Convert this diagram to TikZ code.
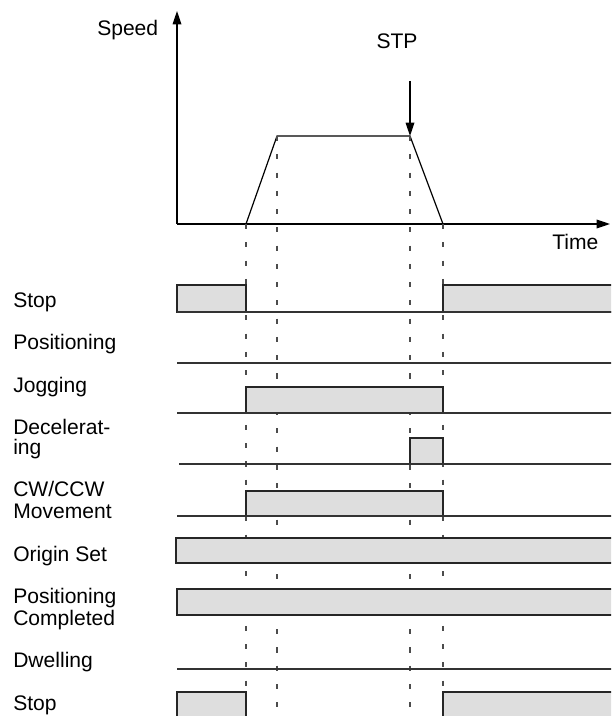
\documentclass[tikz,border=0pt]{standalone}
\usepackage{fontspec}
\setmainfont{Liberation Sans}
\usetikzlibrary{arrows.meta}

\begin{document}
\begin{tikzpicture}[x=0.75pt,y=-0.75pt,
  every node/.style={font=\fontsize{15.8}{15.8}\selectfont,inner sep=0pt},
  siglabel/.style={anchor=base west,align=left},
  sigline/.style={line width=0.8pt,black!80},
  sigbox/.style={fill=black!13,draw=black!85,line width=0.8pt},
  markline/.style={black!70,line width=0.8pt,dash pattern=on 3.8pt off 9.9pt},
  axis/.style={line width=0.9pt,-{Triangle[length=10pt,width=6.5pt]}}]
\useasboundingbox (0,0) rectangle (611,716);
\clip (0,0) rectangle (611,716);
% speed graph
\coordinate (O) at (177,224);
\coordinate (p1) at (246,224);
\coordinate (p2) at (277,136);
\coordinate (p3) at (410,136);
\coordinate (p4) at (443,224);
\coordinate (stpA) at (410,81);
\draw[axis] (O) -- (177,11);
\draw[axis] (O) -- (610,224);
\node[anchor=base west] (speed) at (97,36) {Speed};
\node[anchor=base] (stp) at (397,49) {STP};
\node[anchor=base west] (time) at (552,249) {Time};
\draw[line width=0.9pt] (p1) -- (p2) -- (p3) -- (p4);
\draw[axis] (stpA) -- (p3);
% timing marks
\draw[markline] (p1) -- (246,716);
\draw[markline] (p2) -- (277,716);
\draw[markline] (p3) -- (410,716);
\draw[markline] (p4) -- (443,716);
% signal names (base = last line)
\node[siglabel] (stop1) at (13,307) {Stop};
\node[siglabel] (posn) at (13,349) {Positioning};
\node[siglabel] (jog) at (13,392) {Jogging};
\node[siglabel] (decel) at (13,454) {Decelerat-\\[-1.5pt]ing};
\node[siglabel] (cw) at (13,518) {CW/CCW\\Movement};
\node[siglabel] (origin) at (13,561) {Origin Set};
\node[siglabel] (posdone) at (13,625) {Positioning\\Completed};
\node[siglabel] (dwell) at (13,667) {Dwelling};
\node[siglabel] (stop2) at (13,710) {Stop};
% signals
\draw[sigbox] (177,285) rectangle (246,312);
\draw[sigbox] (443,285) rectangle (616,312);
\draw[sigline] (177,312) -- (616,312);
\draw[sigline] (177,363) -- (616,363);
\draw[sigbox] (246,387) rectangle (443,413);
\draw[sigline] (177,413) -- (616,413);
\draw[sigbox] (410,438) rectangle (443,464);
\draw[sigline] (179,464) -- (616,464);
\draw[sigbox] (246,491) rectangle (443,516);
\draw[sigline] (177,516) -- (616,516);
\draw[sigbox] (176,538) rectangle (616,563);
\draw[sigbox] (177,589) rectangle (616,615);
\draw[sigline] (177,669) -- (616,669);
\draw[sigbox] (177,692) rectangle (246,722);
\draw[sigbox] (443,692) rectangle (616,722);
\end{tikzpicture}
\end{document}
